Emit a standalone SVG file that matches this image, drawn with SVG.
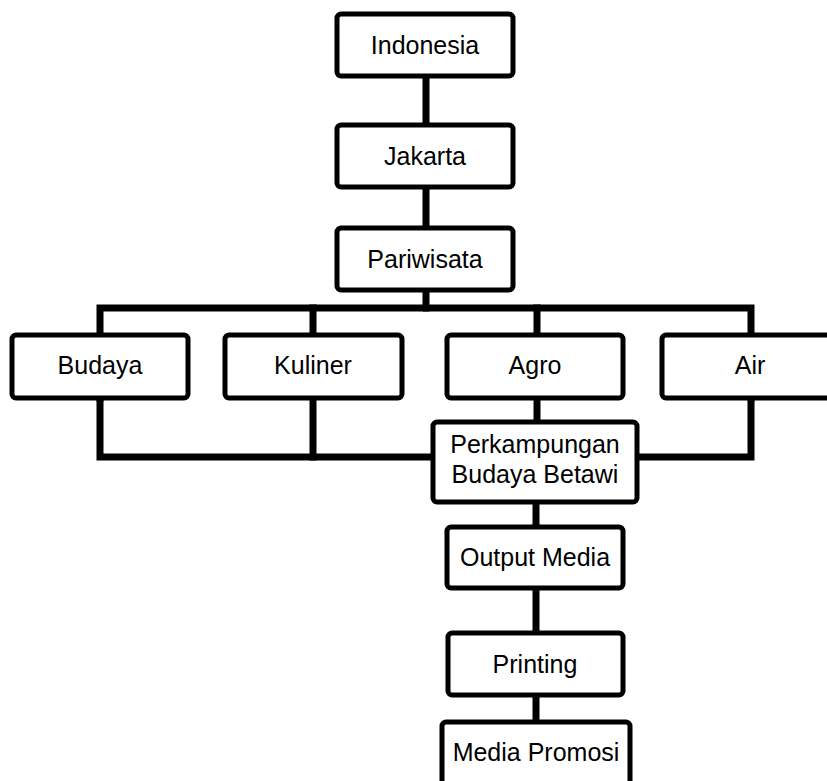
<svg xmlns="http://www.w3.org/2000/svg" width="827" height="781" viewBox="0 0 827 781">
<style>
.box{fill:#fff;stroke:#000;stroke-width:5}
.ln{stroke:#000;stroke-width:7;fill:none;stroke-linecap:square}
text{font-family:"Liberation Sans",Arial,sans-serif;font-size:25px;fill:#000;text-anchor:middle}
</style>
<rect width="827" height="781" fill="#fff"/>
<g id="connectors">
<line class="ln" x1="426" y1="76" x2="426" y2="308"/>
<polyline class="ln" points="100,398 100,308 751,308 751,398"/>
<line class="ln" x1="313" y1="308" x2="313" y2="457"/>
<line class="ln" x1="537" y1="308" x2="537" y2="422"/>
<polyline class="ln" points="100,398 100,457 751,457 751,398"/>
<line class="ln" x1="536" y1="502" x2="536" y2="725"/>
</g>
<g id="indonesia"><rect class="box" x="337" y="14" width="176" height="62" rx="4"/><text x="425" y="54">Indonesia</text></g>
<g id="jakarta"><rect class="box" x="337" y="125" width="176" height="62" rx="4"/><text x="425" y="165">Jakarta</text></g>
<g id="pariwisata"><rect class="box" x="337" y="228" width="176" height="62" rx="4"/><text x="425" y="268">Pariwisata</text></g>
<g id="budaya"><rect class="box" x="12" y="335" width="176" height="63" rx="4"/><text x="100" y="374">Budaya</text></g>
<g id="kuliner"><rect class="box" x="225" y="335" width="177" height="63" rx="4"/><text x="313" y="374">Kuliner</text></g>
<g id="agro"><rect class="box" x="447" y="335" width="176" height="63" rx="4"/><text x="535" y="374">Agro</text></g>
<g id="air"><rect class="box" x="662" y="335" width="180" height="63" rx="4"/><text x="750" y="374">Air</text></g>
<g id="perkampungan"><rect class="box" x="433" y="422" width="204" height="80" rx="4"/><text x="535" y="453">Perkampungan</text><text x="535" y="483">Budaya Betawi</text></g>
<g id="output-media"><rect class="box" x="447" y="527" width="176" height="61" rx="4"/><text x="535" y="566">Output Media</text></g>
<g id="printing"><rect class="box" x="448" y="633" width="175" height="62" rx="4"/><text x="535" y="673">Printing</text></g>
<g id="media-promosi"><rect class="box" x="442" y="722" width="188" height="80" rx="4"/><text x="536" y="761">Media Promosi</text></g>
</svg>
